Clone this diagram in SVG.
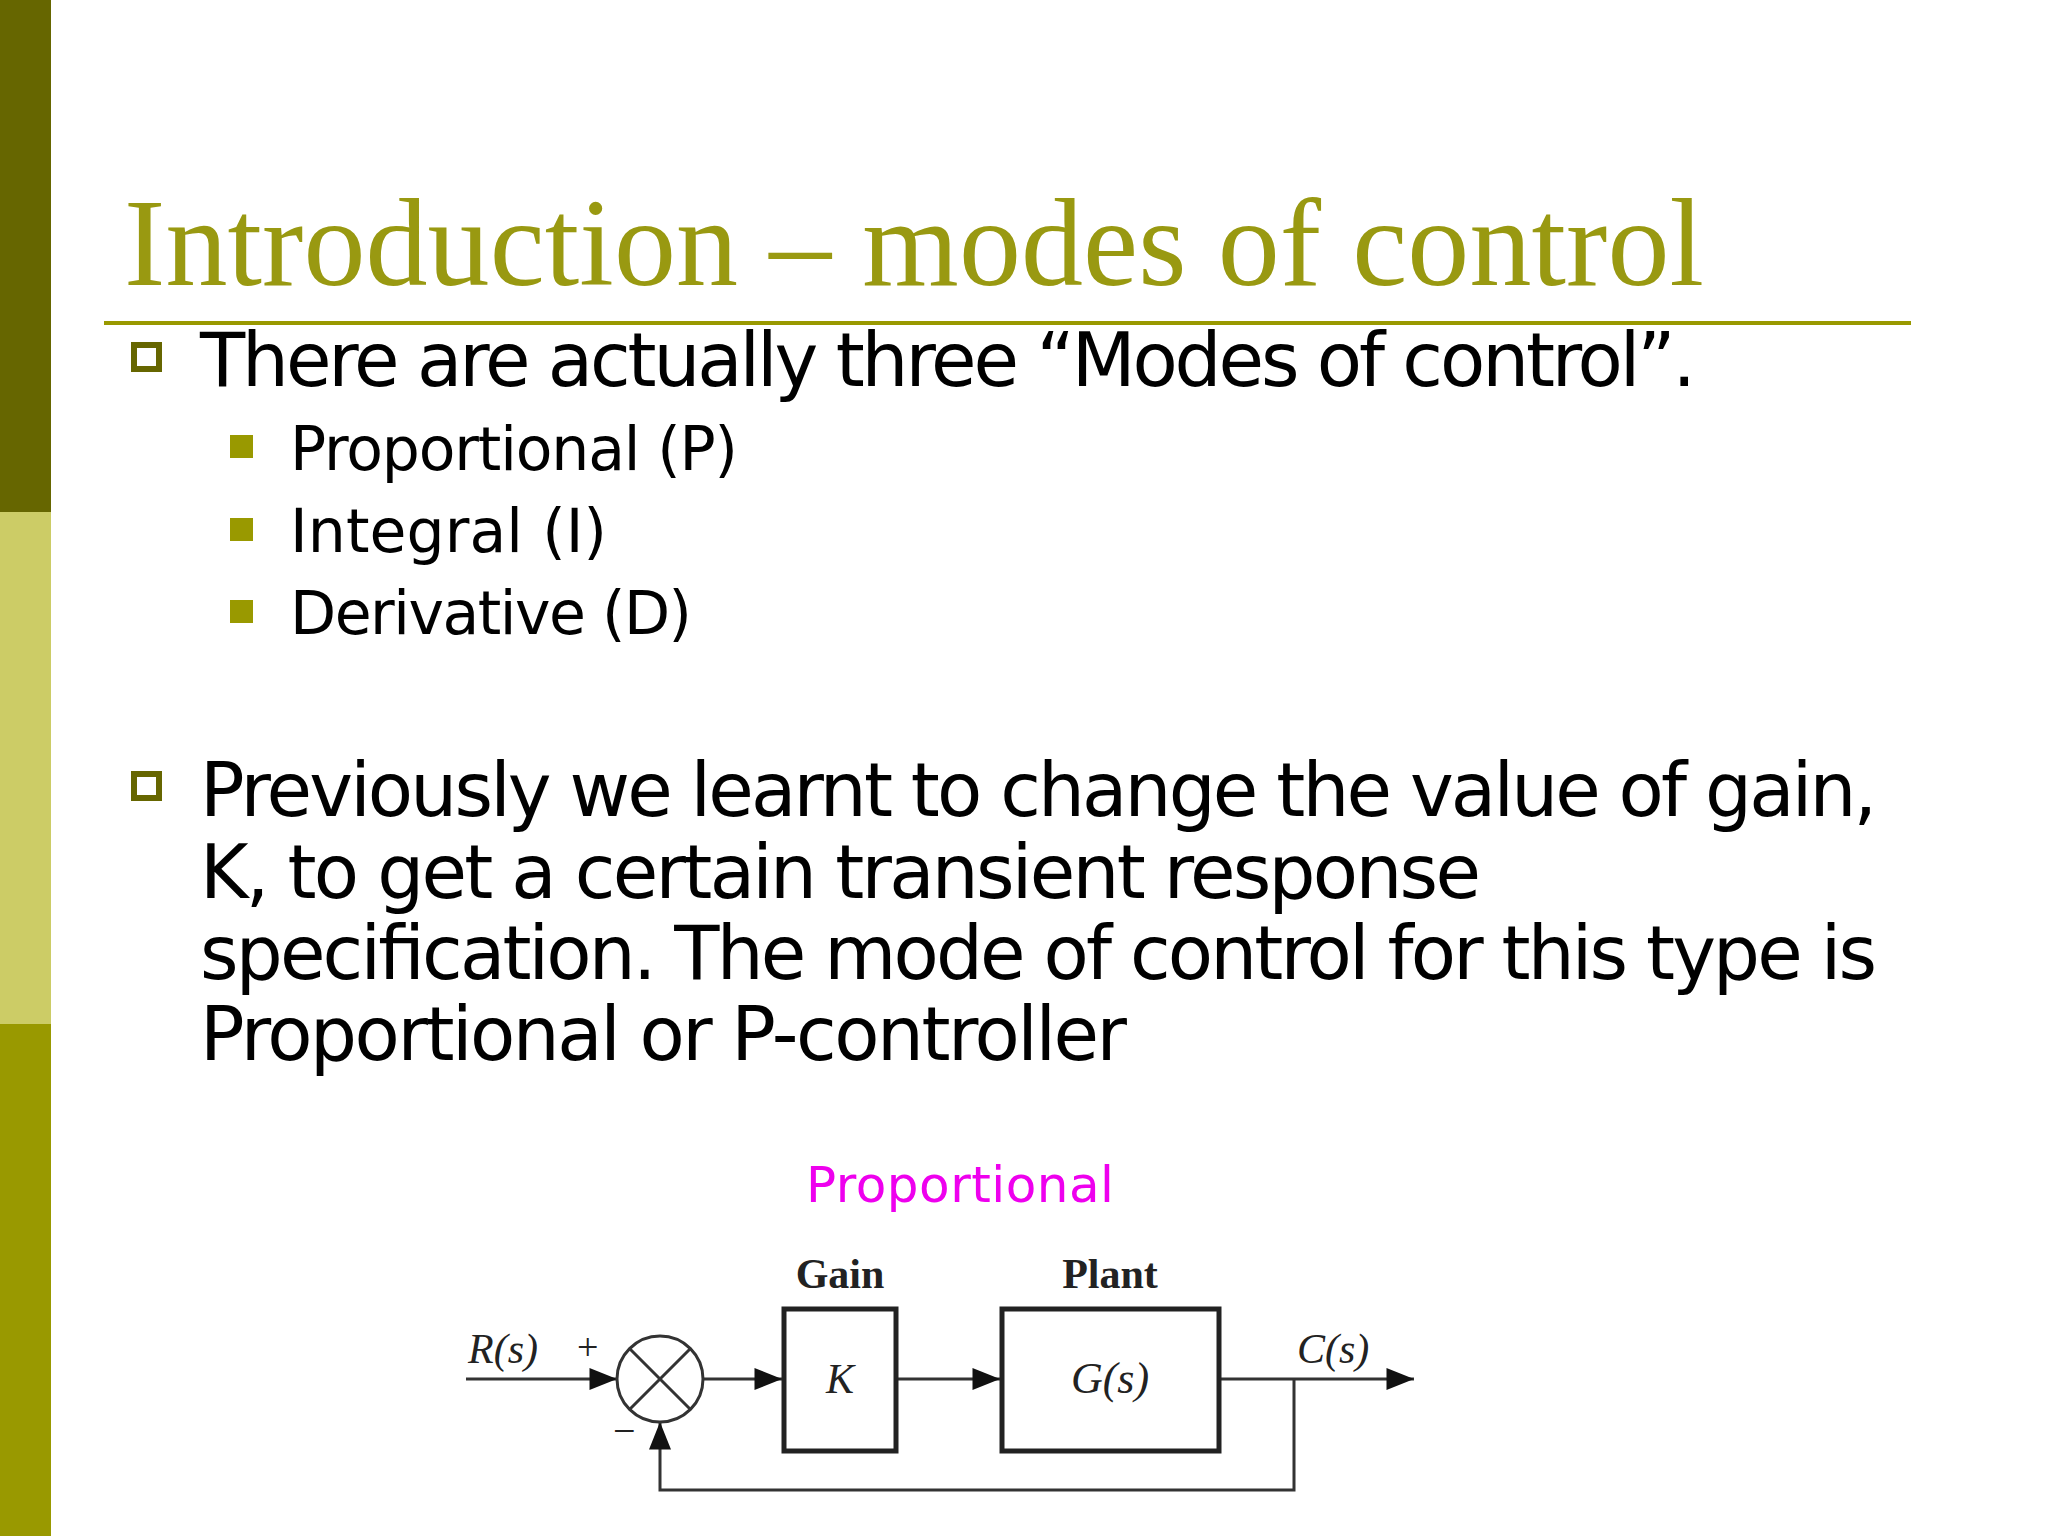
<svg xmlns="http://www.w3.org/2000/svg" width="2048" height="1536" viewBox="0 0 2048 1536">
<style>
.b{font-family:"DejaVu Sans",Verdana,sans-serif;fill:#000}
.d{font-family:"Liberation Serif","Times New Roman",serif;fill:#222}
.ln{stroke:#333;stroke-width:3;fill:none}
.bx{stroke:#222;stroke-width:5;fill:#fff}
</style>
<defs>
<marker id="a2" viewBox="0 0 10 8" refX="10" refY="4" markerWidth="30" markerHeight="22" orient="auto" markerUnits="userSpaceOnUse"><path d="M0,0L10,4L0,8z" fill="#111"/></marker></defs>
<rect width="2048" height="1536" fill="#fff"/>
<rect x="0" y="0" width="51" height="512" fill="#666600"/>
<rect x="0" y="512" width="51" height="512" fill="#cccc66"/>
<rect x="0" y="1024" width="51" height="512" fill="#999900"/>
<text x="124" y="285" font-family="'Liberation Serif',serif" font-size="124" fill="#999911" textLength="1580">Introduction – modes of control</text>
<line x1="104" y1="323" x2="1911" y2="323" stroke="#999900" stroke-width="4"/>
<rect x="134" y="345" width="25" height="24" fill="none" stroke="#666600" stroke-width="6"/>
<text class="b" x="200" y="386" font-size="74" textLength="1496">There are actually three “Modes of control”.</text>
<g fill="#999900"><rect x="230" y="435" width="23" height="23"/><rect x="230" y="518" width="23" height="23"/><rect x="230" y="600" width="23" height="23"/></g>
<text class="b" x="290" y="470" font-size="60" textLength="448">Proportional (P)</text>
<text class="b" x="290" y="552" font-size="60" textLength="317">Integral (I)</text>
<text class="b" x="290" y="634" font-size="60" textLength="402">Derivative (D)</text>
<rect x="134" y="774" width="25" height="24" fill="none" stroke="#666600" stroke-width="6"/>
<g class="b" font-size="74"><text x="200" y="816" textLength="1677">Previously we learnt to change the value of gain,</text>
<text x="200" y="898" textLength="1281">K, to get a certain transient response</text>
<text x="200" y="979" textLength="1677">specification. The mode of control for this type is</text>
<text x="200" y="1060" textLength="927">Proportional or P-controller</text></g>
<text x="806" y="1202" font-family="'DejaVu Sans',sans-serif" font-size="50" fill="#ee00ee" textLength="308">Proportional</text>
<g id="connectors" class="ln">
<line x1="466" y1="1379" x2="617" y2="1379" marker-end="url(#a2)"/>
<line x1="703" y1="1379" x2="782" y2="1379" marker-end="url(#a2)"/>
<line x1="896" y1="1379" x2="1000" y2="1379" marker-end="url(#a2)"/>
<line x1="1219" y1="1379" x2="1414" y2="1379" marker-end="url(#a2)"/>
<polyline points="1294,1379 1294,1490 660,1490 660,1422" marker-end="url(#a2)"/>
</g>
<g id="sum"><circle cx="660" cy="1379" r="43" class="ln"/><line x1="630" y1="1349" x2="690" y2="1409" class="ln"/><line x1="690" y1="1349" x2="630" y2="1409" class="ln"/></g>
<g id="gain"><rect x="784" y="1309" width="112" height="142" class="bx"/><text class="d" x="840" y="1393" font-size="42" font-style="italic" text-anchor="middle">K</text><text class="d" x="840" y="1288" font-size="42" font-weight="bold" text-anchor="middle" fill="#333">Gain</text></g>
<g id="plant"><rect x="1002" y="1309" width="217" height="142" class="bx"/><text class="d" x="1110" y="1393" font-size="44" font-style="italic" text-anchor="middle">G(s)</text><text class="d" x="1110" y="1288" font-size="42" font-weight="bold" text-anchor="middle" fill="#333">Plant</text></g>
<text class="d" x="468" y="1363" font-size="42" font-style="italic">R(s)</text>
<text class="d" x="577" y="1360" font-size="38" fill="#888">+</text>
<text class="d" x="613" y="1444" font-size="40" fill="#888">−</text>
<text class="d" x="1297" y="1363" font-size="42" font-style="italic">C(s)</text>
</svg>
